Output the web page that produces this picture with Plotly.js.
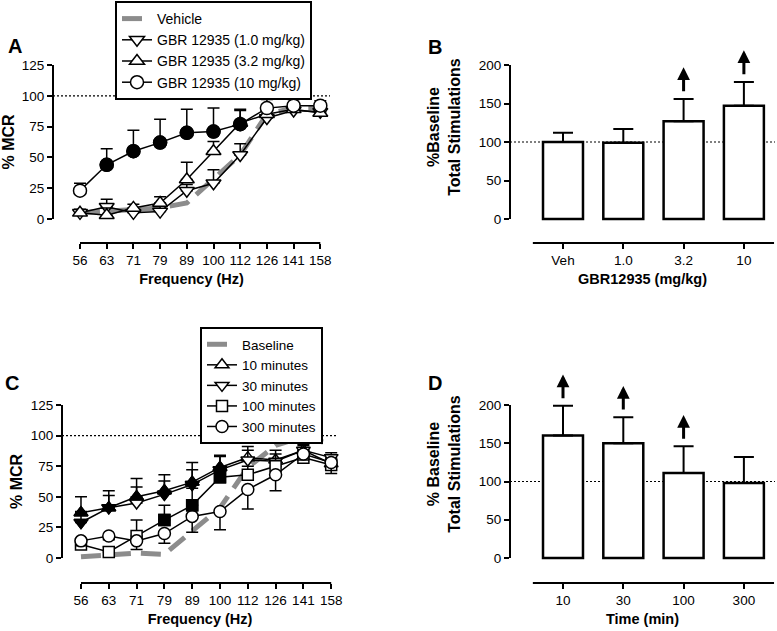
<!DOCTYPE html>
<html><head><meta charset="utf-8">
<script src="https://cdn.plot.ly/plotly-3.0.1.min.js"></script>
<style>html,body{margin:0;padding:0;background:#fff}#chart{width:777px;height:631px}</style>
</head><body><div id="chart"></div>
<script>
// ---------------- Data ----------------
const freqLabels = ['56','63','71','79','89','100','112','126','141','158'];

// Panel A (% MCR, upward SEM)
const vehicleA = [5,6,7,9,13,32,52,85,90,90];
const gbr1 = [5,10,5,6,23,29,52,82,88,87];
const gbr1Err = [2,6,3,6,5,11,9,6,4,4];
const gbr32 = [5,3,9,13,32,55,78,85,89,86];
const gbr32Err = [3,6,3,5,14,8,10,8,5,4];
const gbr10 = [23,44,55,62,70,71,77,90,92,92];
const gbr10Err = [6,13,17,19,19,19,12,7,5,4];
const gbr10Sig = [0,1,1,1,1,1,1,0,0,0];

// Panel B (% baseline total stimulations)
const doseLabels = ['Veh','1.0','3.2','10'];
const doseStim = [100,99,127,147];
const doseStimErr = [12,18,29,31];
const doseArrow = [0,0,1,1];

// Panel C (% MCR)
const baselineC = [1,2,4,3,22,41,74,92,99,93];
const min10 = [37,41,50,55,62,74,82,80,88,77];
const min10Err = [13,14,15,13,16,10,9,8,5,4];
const min10Sig = [1,1,1,1,1,1,0,0,0,0];
const min30 = [29,41,45,52,60,72,80,79,88,82];
const min30Err = [9,10,13,11,12,11,8,6,4,4];
const min30Sig = [1,1,0,1,1,1,0,0,0,0];
const min100 = [11,5,18,31,43,66,68,75,82,76];
const min100Err = [5,4,13,12,14,8,7,6,4,4];
const min100Sig = [0,0,0,1,1,1,0,0,0,0];
const min300 = [14,18,14,20,34,38,56,68,85,78];
const min300ErrDown = [4,3,7,8,13,15,16,13,5,9];

// Panel D
const timeLabels = ['10','30','100','300'];
const timeStim = [160,150,111,98];
const timeStimErr = [39,34,35,34];
const timeArrow = [1,1,1,0];

// ---------------- Helpers ----------------
const W = 777, H = 631;
const px = v => v / W;
const py = v => 1 - v / H;
const FONT = 'Liberation Sans, Arial, Helvetica, sans-serif';
const idx = freqLabels.map((_, i) => i);
const zeros = a => a.map(() => 0);

function lineTrace(name, vals, errUp, errDown, symbol, size, xa, ya, legend) {
  return {
    type: 'scatter', mode: 'lines+markers', name, x: idx, y: vals, xaxis: xa, yaxis: ya, legend,
    line: {color: 'black', width: 1.5},
    marker: {symbol, size, color: 'white', line: {color: 'black', width: 1.5}},
    error_y: {type: 'data', symmetric: false, array: errUp, arrayminus: errDown,
              color: 'black', thickness: 1.5, width: 6},
    cliponaxis: false
  };
}
function sigTrace(vals, sig, symbol, size, xa, ya) {
  const x = [], y = [];
  vals.forEach((v, i) => { if (sig[i]) { x.push(i); y.push(v); } });
  return {type: 'scatter', mode: 'markers', x, y, xaxis: xa, yaxis: ya, showlegend: false,
          hoverinfo: 'skip', cliponaxis: false,
          marker: {symbol, size, color: 'black', line: {color: 'black', width: 1.5}}};
}
function grayTrace(name, vals, xa, ya, legend) {
  return {type: 'scatter', mode: 'lines', name, x: idx, y: vals, xaxis: xa, yaxis: ya, legend,
          line: {color: '#8c8c8c', width: 5, dash: '20px,10px'}, cliponaxis: false};
}
function barTrace(labels, vals, errs, xa, ya) {
  return {type: 'bar', x: labels.map((_, i) => i), y: vals, xaxis: xa, yaxis: ya, width: 0.663,
          showlegend: false, marker: {color: 'white', line: {color: 'black', width: 2.5}},
          error_y: {type: 'data', symmetric: false, array: errs, arrayminus: zeros(errs),
                    color: 'black', thickness: 2, width: 10}};
}

const traces = [
  grayTrace('Vehicle', vehicleA, 'x', 'y', 'legend'),
  lineTrace('GBR 12935 (1.0 mg/kg)', gbr1, gbr1Err, zeros(gbr1), 'triangle-down', 13, 'x', 'y', 'legend'),
  lineTrace('GBR 12935 (3.2 mg/kg)', gbr32, gbr32Err, zeros(gbr32), 'triangle-up', 13, 'x', 'y', 'legend'),
  lineTrace('GBR 12935 (10 mg/kg)', gbr10, gbr10Err, zeros(gbr10), 'circle', 13, 'x', 'y', 'legend'),
  sigTrace(gbr10, gbr10Sig, 'circle', 13, 'x', 'y'),

  barTrace(doseLabels, doseStim, doseStimErr, 'x3', 'y3'),

  grayTrace('Baseline', baselineC, 'x2', 'y2', 'legend2'),
  lineTrace('10 minutes', min10, min10Err, zeros(min10), 'triangle-up', 12, 'x2', 'y2', 'legend2'),
  lineTrace('30 minutes', min30, min30Err, zeros(min30), 'triangle-down', 12, 'x2', 'y2', 'legend2'),
  lineTrace('100 minutes', min100, min100Err, zeros(min100), 'square', 11, 'x2', 'y2', 'legend2'),
  lineTrace('300 minutes', min300, zeros(min300), min300ErrDown, 'circle', 12, 'x2', 'y2', 'legend2'),
  sigTrace(min10, min10Sig, 'triangle-up', 12, 'x2', 'y2'),
  sigTrace(min30, min30Sig, 'triangle-down', 12, 'x2', 'y2'),
  sigTrace(min100, min100Sig, 'square', 11, 'x2', 'y2'),

  barTrace(timeLabels, timeStim, timeStimErr, 'x4', 'y4')
];

const TICK = 13.5;
const axCommon = {
  showgrid: false, zeroline: false, showline: false, ticks: 'outside', ticklen: 5, tickwidth: 2,
  tickcolor: 'black', tickfont: {family: FONT, size: TICK, color: 'black'}, fixedrange: true, tickmode: 'array'
};
const titleFont = s => ({family: FONT, size: s, color: 'black', weight: 'bold'});

// bar chart geometry shared by B and D
const barRange = [-0.879, 3.516];

const shapes = [];
function axisLines(xa, ya, yTop, xPix, xPosPix, xFrom, xTo, xDomRightPix) {
  shapes.push({type: 'line', xref: 'paper', yref: ya, x0: px(xPix), x1: px(xPix), y0: 0, y1: yTop,
               line: {color: 'black', width: 2}});
  shapes.push({type: 'line', xref: xa, yref: 'paper', x0: xFrom, x1: xTo, y0: py(xPosPix), y1: py(xPosPix),
               line: {color: 'black', width: 2}});
  shapes.push({type: 'line', xref: 'paper', yref: ya, x0: px(xPix), x1: px(xDomRightPix), y0: 100, y1: 100,
               layer: 'below', line: {color: 'black', width: 1.2, dash: '2px,2px'}});
}
axisLines('x', 'y', 125, 53, 243, 0, 9, 330);
axisLines('x3', 'y3', 200, 510, 243, -0.5, 3.5, 775);
axisLines('x2', 'y2', 125, 62, 583, 0, 9, 338);
axisLines('x4', 'y4', 200, 510, 583, -0.5, 3.5, 775);

const letter = (t, x, y) => ({text: t, xref: 'paper', yref: 'paper', x: px(x), y: py(y),
  xanchor: 'center', yanchor: 'middle', showarrow: false, font: titleFont(20)});
const annotations = [letter('A', 15, 46), letter('B', 435, 47), letter('C', 12, 383), letter('D', 435, 383)];

function arrows(vals, errs, flags, xa, ya) {
  const gap = 8, len = 33;
  vals.forEach((v, i) => {
    if (!flags[i]) return;
    const base = v + errs[i] + gap;
    annotations.push({xref: xa, yref: ya, axref: xa, ayref: ya, x: i, y: base + len, ax: i, ay: base,
      text: '', showarrow: true, arrowhead: 2, arrowsize: 0.85, arrowwidth: 3, arrowcolor: 'black',
      standoff: 0, startstandoff: 0});
  });
}
arrows(doseStim, doseStimErr, doseArrow, 'x3', 'y3');
arrows(timeStim, timeStimErr, timeArrow, 'x4', 'y4');

const legendCommon = {
  xanchor: 'left', yanchor: 'top', bgcolor: 'white', bordercolor: 'black', borderwidth: 2,
  itemwidth: 30, tracegroupgap: 0, traceorder: 'normal'
};

const barScaleB = 0.77, barScaleD = 0.765;
const layout = {
  width: W, height: H, margin: {l: 0, r: 0, t: 0, b: 0},
  paper_bgcolor: 'white', plot_bgcolor: 'rgba(0,0,0,0)',
  font: {family: FONT, color: 'black'}, showlegend: true,
  legend: Object.assign({x: px(115), y: py(1), font: {family: FONT, size: 14, color: 'black'}}, legendCommon),
  legend2: Object.assign({x: px(200), y: py(327), font: {family: FONT, size: 13.5, color: 'black'}}, legendCommon),

  xaxis: Object.assign({}, axCommon, {domain: [px(53), px(330)], range: [-1.011, 9.363], anchor: 'free',
    position: py(243), tickvals: idx, ticktext: freqLabels,
    title: {text: 'Frequency (Hz)', font: titleFont(14.5), standoff: 6}}),
  yaxis: Object.assign({}, axCommon, {domain: [py(224), py(60)], range: [-4.06, 129.06], anchor: 'x',
    tickvals: [0, 25, 50, 75, 100, 125], title: {text: '% MCR', font: titleFont(16), standoff: 4}}),

  xaxis3: Object.assign({}, axCommon, {domain: [px(510), px(775)], range: barRange, anchor: 'free',
    position: py(243), tickvals: doseLabels.map((_, i) => i), ticktext: doseLabels,
    title: {text: 'GBR12935 (mg/kg)', font: titleFont(14.5), standoff: 6}}),
  yaxis3: Object.assign({}, axCommon, {domain: [py(224), py(30)],
    range: [(219 - 224) / barScaleB, (219 - 30) / barScaleB], anchor: 'x3',
    tickvals: [0, 50, 100, 150, 200], title: {text: '%Baseline<br>Total Stimulations', font: titleFont(16), standoff: 14}}),

  xaxis2: Object.assign({}, axCommon, {domain: [px(62), px(338)], range: [-0.683, 9.245], anchor: 'free',
    position: py(583), tickvals: idx, ticktext: freqLabels,
    title: {text: 'Frequency (Hz)', font: titleFont(14.5), standoff: 6}}),
  yaxis2: Object.assign({}, axCommon, {domain: [py(563), py(400)], range: [-4.08, 129.08], anchor: 'x2',
    tickvals: [0, 25, 50, 75, 100, 125], title: {text: '% MCR', font: titleFont(16), standoff: 4}}),

  xaxis4: Object.assign({}, axCommon, {domain: [px(510), px(775)], range: barRange, anchor: 'free',
    position: py(583), tickvals: timeLabels.map((_, i) => i), ticktext: timeLabels,
    title: {text: 'Time (min)', font: titleFont(14.5), standoff: 6}}),
  yaxis4: Object.assign({}, axCommon, {domain: [py(563), py(365)],
    range: [(558 - 563) / barScaleD, (558 - 365) / barScaleD], anchor: 'x4',
    tickvals: [0, 50, 100, 150, 200], title: {text: '% Baseline<br>Total Stimulations', font: titleFont(16), standoff: 14}}),

  shapes, annotations
};

Plotly.newPlot('chart', traces, layout, {staticPlot: true, displayModeBar: false});
</script>
</body></html>
